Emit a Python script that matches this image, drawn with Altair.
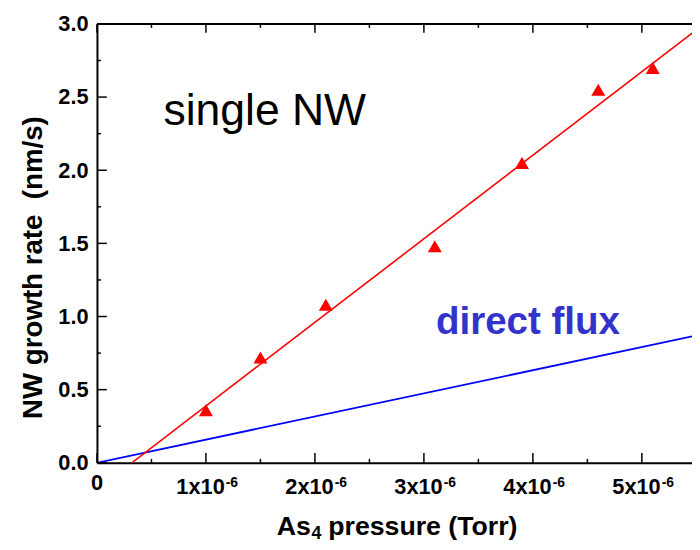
import altair as alt
import pandas as pd

# ---- data ----
pressure = [1.0e-6, 1.5e-6, 2.1e-6, 3.1e-6, 3.9e-6, 4.6e-6, 5.1e-6]
rate = [0.36, 0.72, 1.08, 1.48, 2.05, 2.55, 2.70]

fit_x = [0.32e-6, 5.5e-6]
fit_y = [0.0, 2.96]

direct_x = [0.0, 5.5e-6]
direct_y = [0.0, 0.87]

x_major = [0.0, 1e-6, 2e-6, 3e-6, 4e-6, 5e-6]
x_minor = [0.5e-6, 1.5e-6, 2.5e-6, 3.5e-6, 4.5e-6]
x_tick_base = ["0", "1x10", "2x10", "3x10", "4x10", "5x10"]
x_tick_exp = ["", "-6", "-6", "-6", "-6", "-6"]
y_major = [0.0, 0.5, 1.0, 1.5, 2.0, 2.5, 3.0]
y_minor = [0.25, 0.75, 1.25, 1.75, 2.25, 2.75]

x_domain = [0.0, 5.46e-6]
y_domain = [0.0, 3.0]

labels = ["single NW", "direct flux"]
label_x = [0.61e-6, 3.11e-6]
label_y = [2.31, 0.878]

x_title_parts = ["As", "4", "pressure (Torr)"]
y_title = "NW growth rate\u00a0\u00a0(nm/s)"

W, H = 602, 444
FONT = "Liberation Sans"

xscale = alt.Scale(domain=x_domain, nice=False, zero=False)
yscale = alt.Scale(domain=y_domain, nice=False, zero=False)
xaxis = alt.Axis(values=x_major, labels=False, title="")
yaxis = alt.Axis(values=y_major, format=".1f", titleX=-56, titleY=246,
                 titleBaseline="alphabetic", titleAngle=270)


def xenc(f):
    return alt.X(f, type="quantitative", scale=xscale, axis=xaxis, title="")


def yenc(f):
    return alt.Y(f, type="quantitative", scale=yscale, axis=yaxis, title=y_title)


pts = pd.DataFrame({"p": pressure, "r": rate})
fit = pd.DataFrame({"p": fit_x, "r": fit_y})
direct = pd.DataFrame({"p": direct_x, "r": direct_y})
xmaj = pd.DataFrame({"p": x_major, "base": x_tick_base, "exp": x_tick_exp})
xmin_ = pd.DataFrame({"p": x_minor})
ymaj = pd.DataFrame({"r": y_major})
ymin_ = pd.DataFrame({"r": y_minor})
frame = pd.DataFrame({"p": [x_domain[0]], "p2": [x_domain[1]]})
txt = pd.DataFrame({"p": label_x, "r": label_y, "t": labels})
xt = pd.DataFrame({"t": x_title_parts})

fit_line = alt.Chart(fit).mark_line(color="#FF0000", strokeWidth=1.6, clip=True).encode(
    x=xenc("p"), y=yenc("r"))
direct_line = alt.Chart(direct).mark_line(color="#0000FF", strokeWidth=1.8, clip=True).encode(
    x=xenc("p"), y=yenc("r"))
points = alt.Chart(pts).mark_point(shape="triangle-up", filled=True, size=200,
                                   color="#FF0000", opacity=1).encode(
    x=xenc("p"), y=yenc("r"))

tick_style = dict(color="black", strokeWidth=1.5)
bx_major = alt.Chart(xmaj).mark_rule(**tick_style).encode(
    x=xenc("p"), y=alt.value(H), y2=alt.value(H - 10))
bx_minor = alt.Chart(xmin_).mark_rule(**tick_style).encode(
    x=xenc("p"), y=alt.value(H), y2=alt.value(H - 4))
tx_major = alt.Chart(xmaj).mark_rule(**tick_style).encode(
    x=xenc("p"), y=alt.value(0), y2=alt.value(9))
tx_minor = alt.Chart(xmin_).mark_rule(**tick_style).encode(
    x=xenc("p"), y=alt.value(0), y2=alt.value(4))
ly_major = alt.Chart(ymaj).mark_rule(**tick_style).encode(
    y=yenc("r"), x=alt.value(0), x2=alt.value(10))
ly_minor = alt.Chart(ymin_).mark_rule(**tick_style).encode(
    y=yenc("r"), x=alt.value(0), x2=alt.value(4))
top_border = alt.Chart(frame).mark_rule(color="black", strokeWidth=2).encode(
    x=xenc("p"), x2="p2", y=alt.value(0))

# x tick labels: base + superscript exponent
lab_base = alt.Chart(xmaj).transform_filter("datum.p > 0").mark_text(
    align="right", baseline="alphabetic", dx=19, font=FONT, fontSize=22,
    fontWeight="bold", color="black").encode(
    x=xenc("p"), y=alt.value(H + 32), text="base")
lab_zero = alt.Chart(xmaj).transform_filter("datum.p == 0").mark_text(
    align="center", baseline="alphabetic", font=FONT, fontSize=22,
    fontWeight="bold", color="black").encode(
    x=xenc("p"), y=alt.value(H + 28), text="base")
lab_exp = alt.Chart(xmaj).transform_filter("datum.p > 0").mark_text(
    align="left", baseline="alphabetic", dx=20, font=FONT, fontSize=14,
    fontWeight="bold", color="black").encode(
    x=xenc("p"), y=alt.value(H + 24), text="exp")

# x title: As + subscript 4 + rest
title_style = dict(baseline="alphabetic", font=FONT, fontWeight="bold", color="black", align="left")
xt1 = alt.Chart(xt.iloc[[0]]).mark_text(fontSize=27, **title_style).encode(
    x=alt.value(182), y=alt.value(H + 73), text="t")
xt2 = alt.Chart(xt.iloc[[1]]).mark_text(fontSize=18, **title_style).encode(
    x=alt.value(217), y=alt.value(H + 77), text="t")
xt3 = alt.Chart(xt.iloc[[2]]).mark_text(fontSize=27, **title_style).encode(
    x=alt.value(234), y=alt.value(H + 73), text="t")

single_txt = alt.Chart(txt.iloc[[0]]).mark_text(
    align="left", baseline="alphabetic", font=FONT, fontSize=45, color="black").encode(
    x=xenc("p"), y=yenc("r"), text="t")
direct_txt = alt.Chart(txt.iloc[[1]]).mark_text(
    align="left", baseline="alphabetic", font=FONT, fontSize=39, fontWeight="bold",
    color="#3333CC").encode(
    x=xenc("p"), y=yenc("r"), text="t")

chart = alt.layer(
    direct_line, fit_line, points,
    bx_major, bx_minor, tx_major, tx_minor, ly_major, ly_minor, top_border,
    lab_base, lab_zero, lab_exp, xt1, xt2, xt3,
    single_txt, direct_txt,
).properties(
    width=W, height=H,
    autosize=alt.AutoSizeParams(type="none"),
    padding={"left": 90, "top": 13, "right": 0, "bottom": 77},
).configure_view(stroke=None).configure_axis(
    grid=False, ticks=False, tickSize=0,
    domainColor="black", domainWidth=2,
    labelFont=FONT, labelFontSize=22, labelFontWeight="bold", labelColor="black",
    labelPadding=9, labelFlush=False, labelOverlap=False,
    titleFont=FONT, titleFontWeight="bold", titleColor="black",
).configure_axisY(titleFontSize=28)

chart.save("out.html", embed_options={"renderer": "svg", "actions": False})
